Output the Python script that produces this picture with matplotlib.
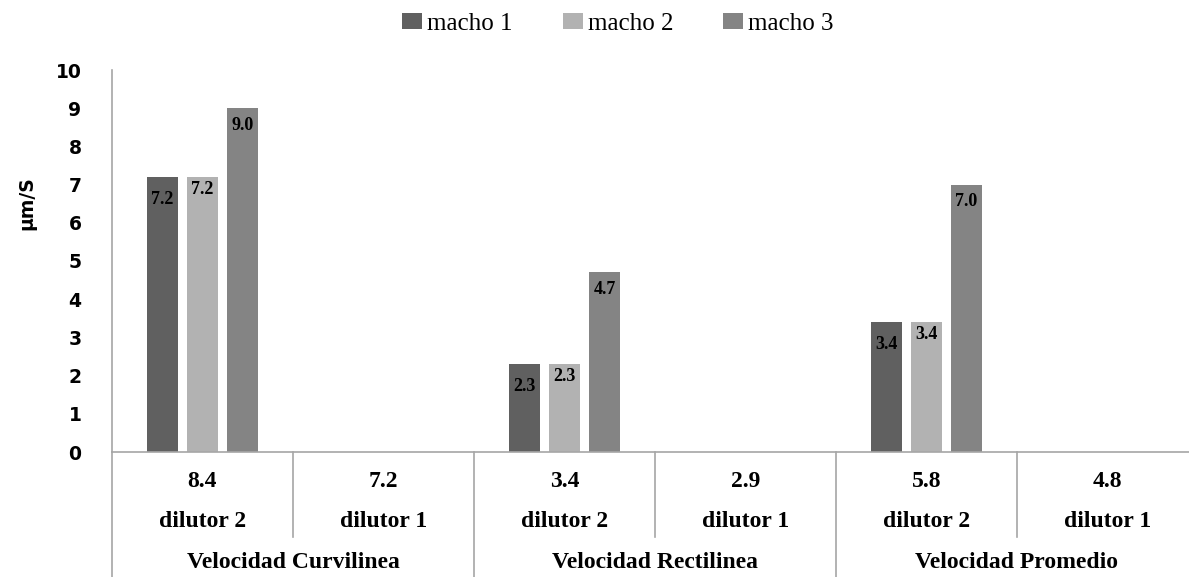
import numpy as np
import matplotlib
matplotlib.use("Agg")
import matplotlib.pyplot as plt
from matplotlib.patches import Patch

# datos
valores_fila = ["8.4", "7.2", "3.4", "2.9", "5.8", "4.8"]
dilutores = ["dilutor 2", "dilutor 1", "dilutor 2", "dilutor 1", "dilutor 2", "dilutor 1"]
grupos = ["Velocidad Curvilinea", "Velocidad Rectilinea", "Velocidad Promedio"]

series = ["macho 1", "macho 2", "macho 3"]
macho_1 = [7.2, np.nan, 2.3, np.nan, 3.4, np.nan]
macho_2 = [7.2, np.nan, 2.3, np.nan, 3.4, np.nan]
macho_3 = [9.0, np.nan, 4.7, np.nan, 7.0, np.nan]

colores = ["#606060", "#b2b2b2", "#848484"]
gris_eje = "#a6a6a6"
serif = "Liberation Serif"

fig = plt.figure(figsize=(11.89, 5.77), dpi=100)
ax = fig.add_axes([112 / 1189, 125 / 577, 1086 / 1189, 382 / 577])

x = np.arange(len(valores_fila))
ancho = 0.171
desplazamientos = [-0.221, 0.0, 0.221]
bajada = [-10, -3, -6]  # posicion de la etiqueta bajo el extremo de la barra

for datos, color, desp, baj in zip([macho_1, macho_2, macho_3], colores, desplazamientos, bajada):
    datos = np.array(datos, dtype=float)
    mask = ~np.isnan(datos)
    ax.bar(x[mask] + desp, datos[mask], width=ancho, color=color, zorder=2)
    # etiquetas de valor dentro del extremo de la barra
    for xi, v in zip(x[mask] + desp, datos[mask]):
        ax.annotate(f"{v:.1f}", (xi, v), xytext=(0, baj), textcoords="offset points",
                    ha="center", va="top", fontsize=13, fontweight="bold",
                    family=serif, color="black", zorder=3)

ax.set_xlim(-0.5, len(x) - 0.5)
ax.set_ylim(0, 10)
ax.set_yticks(range(0, 11))
ax.tick_params(axis="y", length=0, pad=22, labelsize=13.5)
for lab in ax.get_yticklabels():
    lab.set_fontweight("bold")
ax.set_xticks([])

for lado in ["top", "right"]:
    ax.spines[lado].set_visible(False)
for lado in ["left", "bottom"]:
    ax.spines[lado].set_color(gris_eje)
    ax.spines[lado].set_linewidth(1.2)

# eje x con varios niveles
trans = ax.get_xaxis_transform()
y_val, y_dil, y_grp = -0.0785, -0.183, -0.29
for xi, val, dil in zip(x, valores_fila, dilutores):
    ax.text(xi, y_val, val, transform=trans, ha="center", va="center",
            fontsize=17, fontweight="bold", family=serif)
    ax.text(xi, y_dil, dil, transform=trans, ha="center", va="center",
            fontsize=17, fontweight="bold", family=serif)
for i, g in enumerate(grupos):
    ax.text(2 * i + 0.5, y_grp, g, transform=trans, ha="center", va="center",
            fontsize=17, fontweight="bold", family=serif)

# separadores
for k in range(len(x)):
    borde = k - 0.5
    fondo = -0.33 if k % 2 == 0 else -0.2225
    ax.plot([borde, borde], [0, fondo], transform=trans, color=gris_eje,
            lw=1.2, clip_on=False)

fig.text(27 / 1189, 1 - 203 / 577, "µm/S", rotation=90, ha="center", va="center",
         fontsize=13.5, fontweight="bold")

manijas = [Patch(facecolor=c, edgecolor="none") for c in colores]
fig.legend(manijas, series, loc="upper center", bbox_to_anchor=(618 / 1189, 1.0),
           ncol=3, frameon=False, prop={"family": serif, "size": 18},
           handlelength=0.8, handleheight=0.6, handletextpad=0.2,
           columnspacing=2.0, borderaxespad=0.1)

fig.savefig("out.png", dpi=100)
